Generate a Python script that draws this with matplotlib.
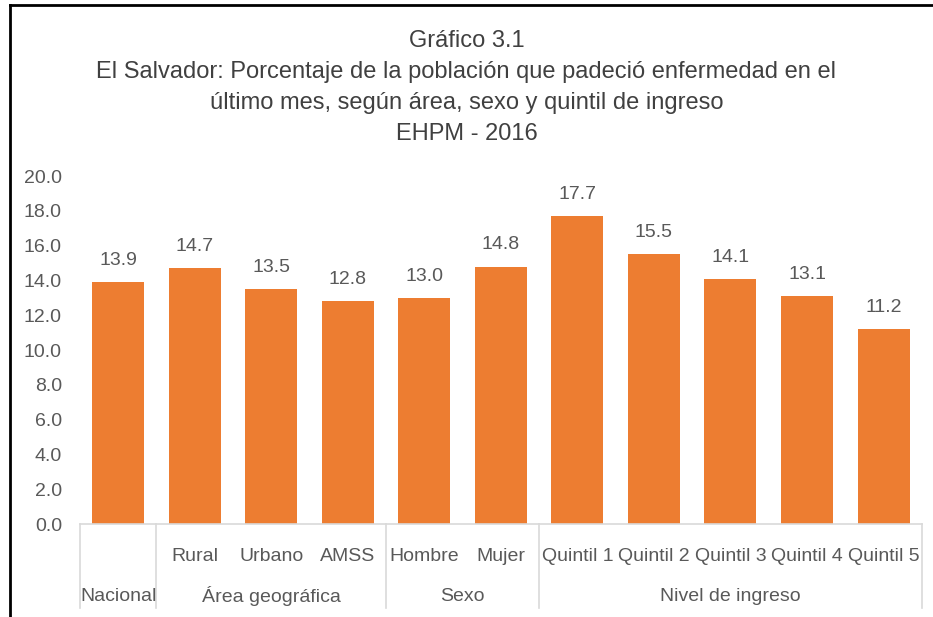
import numpy as np
import matplotlib.pyplot as plt
from matplotlib.lines import Line2D
import matplotlib.transforms as mtransforms

plt.rcParams['font.family'] = ['Liberation Sans Narrow', 'Liberation Sans', 'DejaVu Sans']

# datos
sub_labels = ['', 'Rural', 'Urbano', 'AMSS', 'Hombre', 'Mujer',
              'Quintil 1', 'Quintil 2', 'Quintil 3', 'Quintil 4', 'Quintil 5']
groups = ['Nacional', 'Área geográfica', 'Sexo', 'Nivel de ingreso']
group_sizes = [1, 3, 2, 5]
values = [13.9, 14.7, 13.5, 12.8, 13.0, 14.8, 17.7, 15.5, 14.1, 13.1, 11.2]
yticks = np.arange(0, 20.1, 2)

BAR = '#ED7D31'
TXT = '#595959'
AXC = '#D9D9D9'

fig = plt.figure(figsize=(9.33, 6.17), dpi=100)
ax = fig.add_axes([0.0857, 0.1507, 0.9023, 0.564])

x = np.arange(len(values))
ax.bar(x, values, width=0.68, color=BAR)
for xi, v in zip(x, values):
    ax.text(xi, v + 0.75, f'{v:.1f}', ha='center', va='bottom', fontsize=14, color=TXT)

ax.set_xlim(-0.5, len(values) - 0.5)
ax.set_ylim(0, 20)
ax.set_yticks(yticks)
ax.set_yticklabels([f'{t:.1f}' for t in yticks], fontsize=14, color=TXT)
ax.tick_params(axis='y', length=0, pad=13)
ax.tick_params(axis='x', length=0, pad=17)
ax.set_xticks(x)
ax.set_xticklabels(sub_labels, fontsize=14, color=TXT)
for s in ['top', 'right', 'left']:
    ax.spines[s].set_visible(False)
ax.spines['bottom'].set_color(AXC)
ax.spines['bottom'].set_linewidth(1.2)

# eje de categorías en dos niveles
trans = mtransforms.blended_transform_factory(ax.transData, ax.transAxes)
edges = np.concatenate([[0], np.cumsum(group_sizes)]) - 0.5
for e in edges:
    ax.plot([e, e], [0, -0.24], transform=trans, color=AXC, lw=1.2, clip_on=False)
for g, a, b in zip(groups, edges[:-1], edges[1:]):
    ax.text((a + b) / 2, -0.207, g, transform=trans, ha='center', va='center',
            fontsize=14, color=TXT)

# títulos
title_lines = ['Gráfico 3.1',
               'El Salvador: Porcentaje de la población que padeció enfermedad en el',
               'último mes, según área, sexo y quintil de ingreso',
               'EHPM - 2016']
for i, t in enumerate(title_lines):
    fig.text(0.5, 1 - (41 + 31 * i) / 617, t, ha='center', va='center',
             fontsize=17, color='#404040')

# marco
fig.add_artist(Line2D([10 / 933, 10 / 933], [0, 1 - 5 / 617], color='black', lw=2))
fig.add_artist(Line2D([10 / 933, 1], [1 - 5 / 617, 1 - 5 / 617], color='black', lw=2))

fig.savefig('out.png', dpi=100)
